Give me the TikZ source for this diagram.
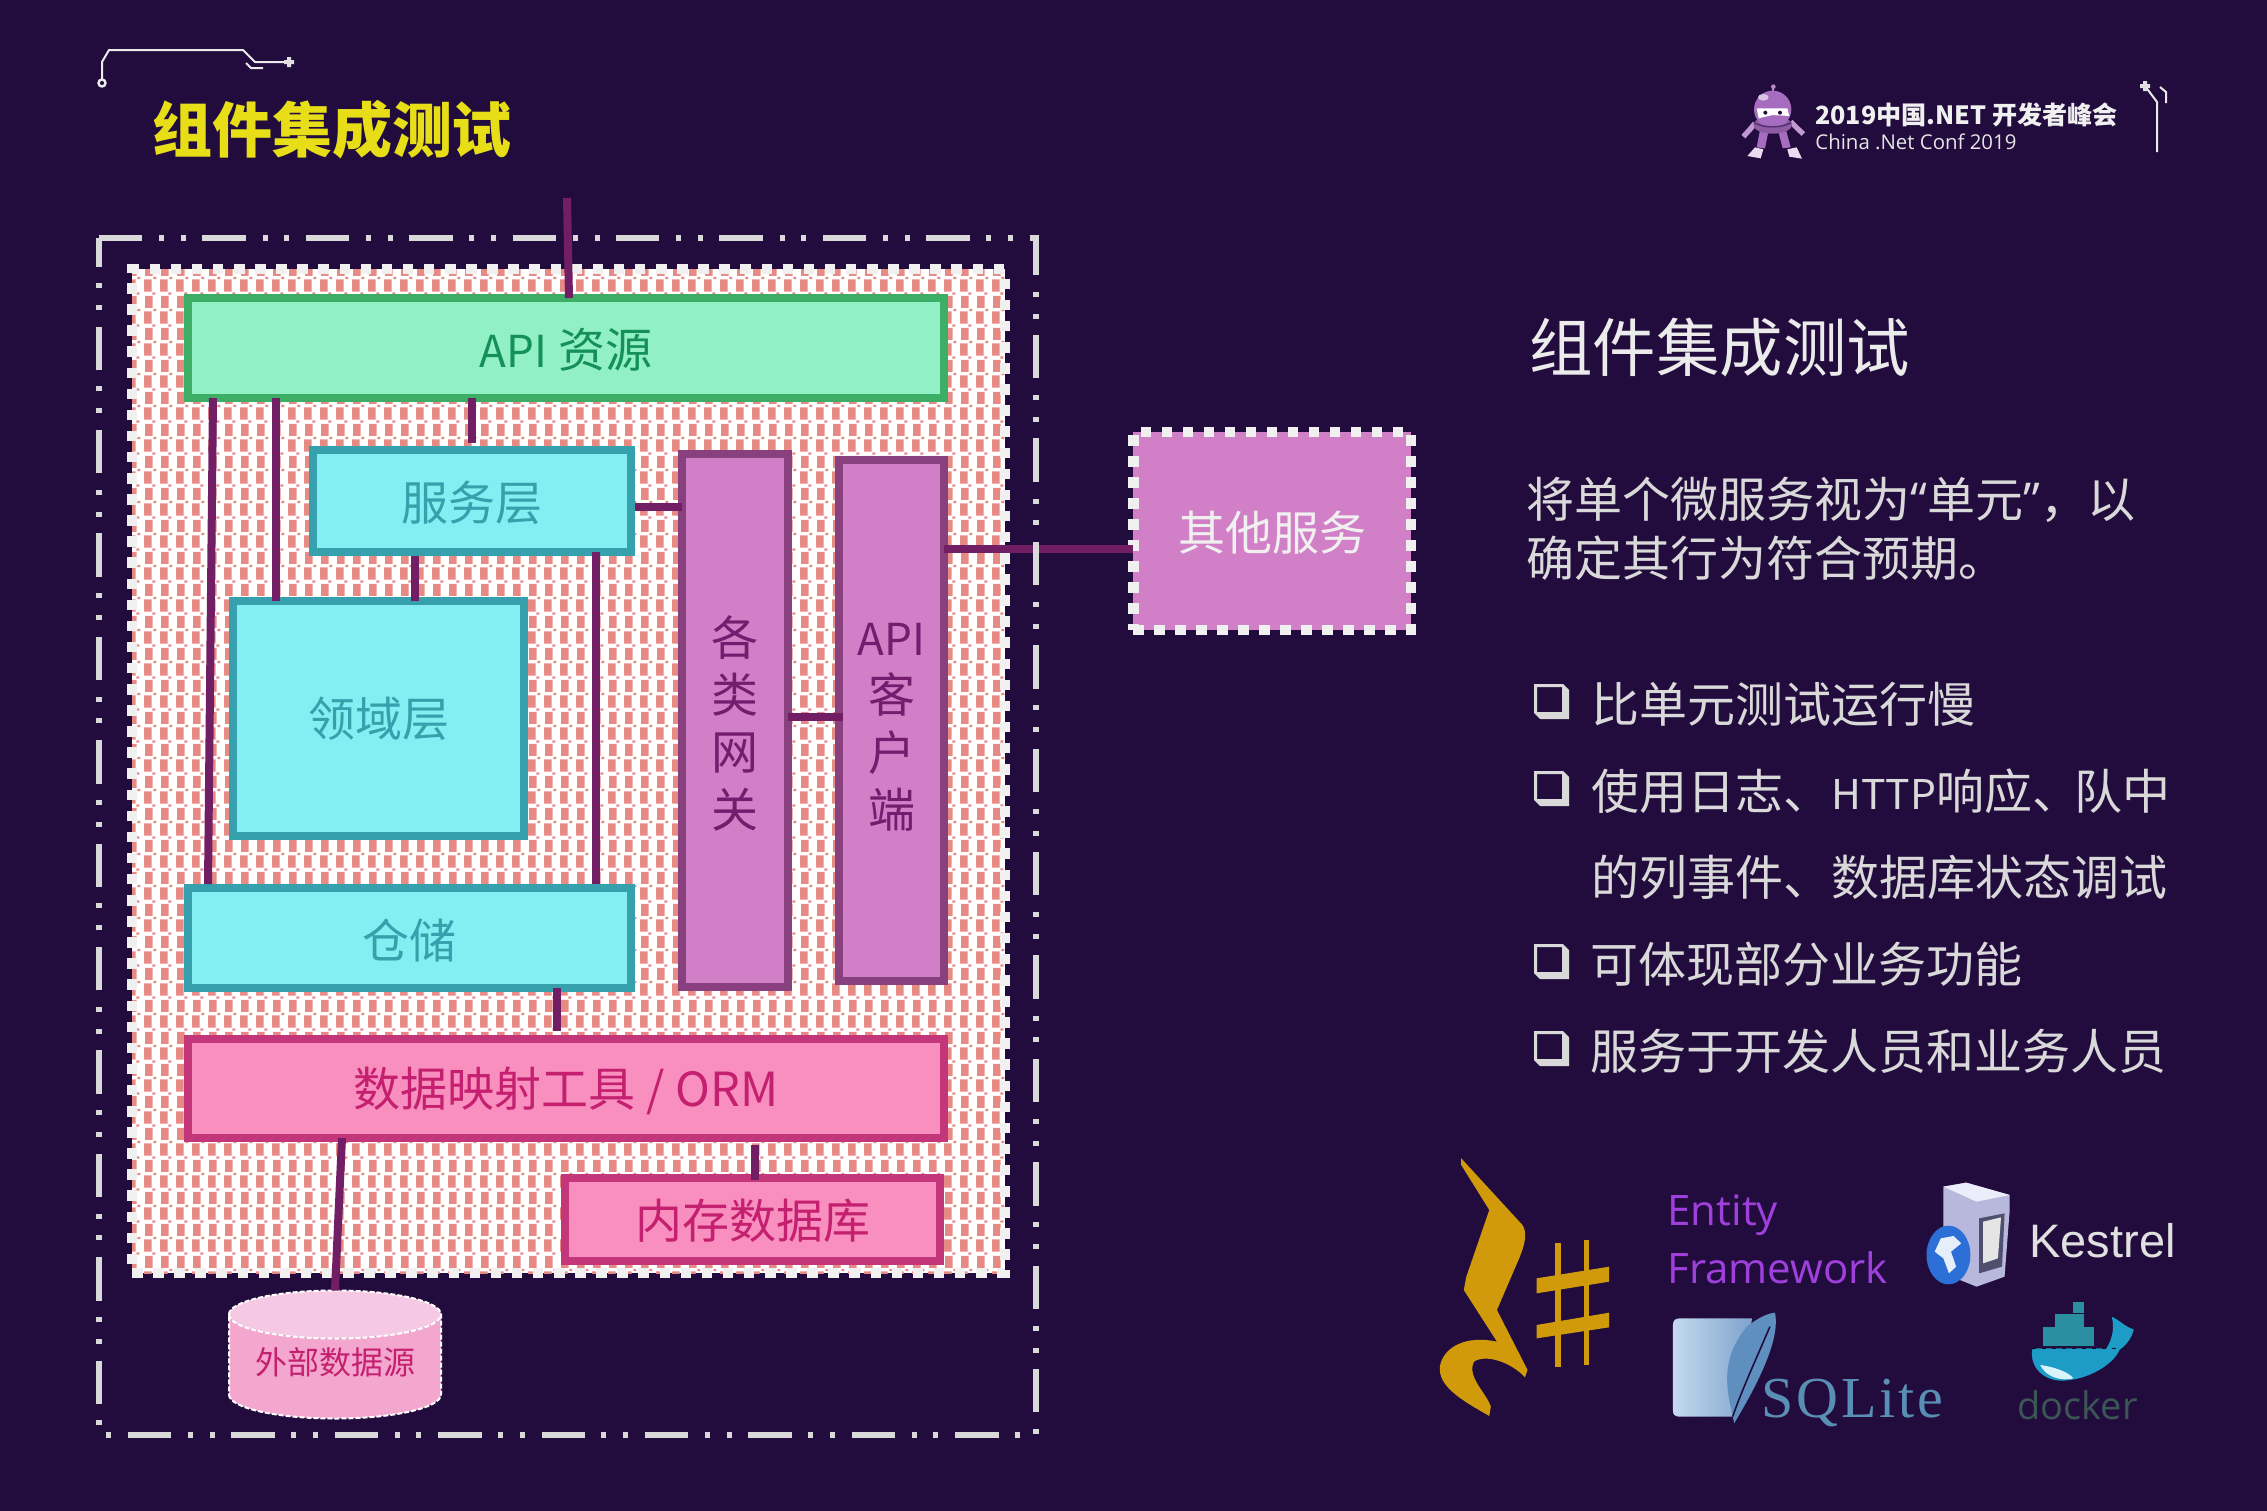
\documentclass[tikz,border=0pt]{standalone}
\usepackage{fontspec}
\setmainfont{Noto Sans CJK SC}
\newfontfamily\latinfont{Open Sans}
\newfontfamily\arialfont{Liberation Sans}
\newfontfamily\serifont[LetterSpace=5]{Liberation Serif}
\usetikzlibrary{patterns,calc,shapes.geometric}
\newcommand{\fsz}[1]{\fontsize{#1}{#1}\selectfont}
\newcommand{\dn}[2][0.7pt]{\raisebox{0pt}[\dimexpr\height+#1+#1\relax][\depth]{#2}}
\definecolor{bgc}{HTML}{220C3D}
\definecolor{conn}{HTML}{721E64}
\definecolor{salm}{HTML}{E88A84}
\definecolor{apif}{HTML}{92F0C6}
\definecolor{apis}{HTML}{3DAE66}
\definecolor{apit}{HTML}{149058}
\definecolor{cyaf}{HTML}{84EEF2}
\definecolor{cyas}{HTML}{36A1AD}
\definecolor{pnkf}{HTML}{F98FBF}
\definecolor{pnks}{HTML}{C4367A}
\definecolor{pnkt}{HTML}{C4206F}
\definecolor{purf}{HTML}{D17FC6}
\definecolor{purs}{HTML}{88407F}
\definecolor{purt}{HTML}{741C6E}
\definecolor{gold}{HTML}{D19A0B}
\definecolor{txtc}{HTML}{D9D9D9}
\definecolor{robot}{HTML}{A66CC0}
\definecolor{efc}{HTML}{A040DC}
\definecolor{sqlt}{HTML}{5A8FB5}
\definecolor{sqlf}{HTML}{5F8FBF}
\definecolor{sqll}{HTML}{C4DAF0}
\definecolor{sqld}{HTML}{7FA2CC}
\definecolor{whale}{HTML}{1E9CC8}
\definecolor{crate}{HTML}{2A8FA0}
\definecolor{dockt}{HTML}{3C5656}
\definecolor{srvl}{HTML}{ECECFA}
\definecolor{srvm}{HTML}{B8B8DC}
\definecolor{srvd}{HTML}{50506E}
\definecolor{globe}{HTML}{2C6FD6}
\definecolor{dbbody}{HTML}{F3A6CE}
\definecolor{dbend}{HTML}{F5C8E4}
\pgfdeclarepatternformonly{tilepat}{\pgfqpoint{0pt}{0pt}}{\pgfqpoint{8pt}{16pt}}{\pgfqpoint{8pt}{16pt}}{%
  \pgfpathrectangle{\pgfqpoint{0pt}{1.8pt}}{\pgfqpoint{4pt}{6.2pt}}%
  \pgfpathrectangle{\pgfqpoint{4.4pt}{0.2pt}}{\pgfqpoint{1.6pt}{1.2pt}}%
  \pgfpathrectangle{\pgfqpoint{0.6pt}{9.8pt}}{\pgfqpoint{4pt}{6.2pt}}%
  \pgfpathrectangle{\pgfqpoint{5pt}{8.2pt}}{\pgfqpoint{1.6pt}{1.2pt}}%
  \pgfusepath{fill}}
\newcommand{\bulletbox}[1]{\fill[txtc,even odd rule,shift={#1}]
  (0,0) -- (29,0) -- (35,6) -- (35,35) -- (6,35) -- (0,29) -- cycle
  (3,3) rectangle (28,28);}
\tikzset{
  box/.style={rectangle,draw,line width=4pt,inner sep=0pt,outer sep=0pt,align=center},
  apibox/.style={box,draw=apis,fill=apif,text=apit},
  cyanbox/.style={box,draw=cyas,fill=cyaf,text=cyas},
  pinkbox/.style={box,draw=pnks,fill=pnkf,text=pnkt},
  purplebox/.style={box,draw=purs,fill=purf,text=purt},
  link/.style={draw=conn,line width=4pt},
  deco/.style={draw=white!92!black,line width=1pt},
  bodytext/.style={text=txtc,anchor=west,inner sep=0pt},
}
\begin{document}
\begin{tikzpicture}[x=0.5pt,y=-0.5pt]
\fill[bgc] (0,0) rectangle (2267,1511);
\useasboundingbox (0,0) rectangle (2267,1511);

% header decorations
\draw[deco] (102,79) -- (102,62) -- (109,50) -- (243,50) -- (255,62) -- (287,62);
\draw[deco,line width=1.2pt] (102,83) circle (3.5);
\draw[deco] (246,63) -- (251,68) -- (263,68);
\fill[white!88!black] (284,60) rectangle (294,64) (287,57) rectangle (291,67);
\draw[deco] (2145,86) -- (2157,102) -- (2157,152);
\draw[deco] (2160,87) -- (2166,92) -- (2166,103);
\fill[white!88!black] (2140,84) rectangle (2150,88) (2143,81) rectangle (2147,91);

% title
\node[text=yellow!90!black,font=\fsz{30}\bfseries,inner sep=0pt] (title) at (332,129.5) {组件集成测试};

% robot logo
\begin{scope}[shift={(1700,60)},scale=1/3]
\draw[robot!80!white,line width=1pt] (220,82) -- (220,105);
\fill[robot!80!white] (220,80) circle (7);
\draw[robot!70!white,line width=2.6pt] (165,190) -- (150,208) -- (130,230);
\draw[robot!70!white,line width=2.6pt] (272,185) -- (292,205) -- (310,222);
\fill[robot] (180,210) -- (205,215) -- (195,265) -- (170,262) -- cycle;
\fill[robot] (235,215) -- (258,210) -- (272,262) -- (248,265) -- cycle;
\fill[white!75!robot] (142,288) -- (165,262) -- (190,268) -- (182,295) -- cycle;
\fill[white!75!robot] (262,268) -- (290,262) -- (306,296) -- (268,290) -- cycle;
\fill[robot!85!black] (218,195) ellipse (58 and 26);
\fill[robot] (218,148) circle (56);
\fill[white!60!robot] (190,112) ellipse (16 and 10);
\fill[white] (170,145) -- (262,145) -- (268,168) -- (218,165) -- (176,175) -- cycle;
\fill[bgc] (196,158) circle (6) (240,158) circle (6);
\draw[bgc!60!robot,line width=0.8pt] (162,188) .. controls (195,205) and (240,205) .. (274,188);
\end{scope}
\node[anchor=west,text=white!94!black,font=\fsz{12.55}\bfseries,inner sep=0pt] (conf) at (1815,115) {2019中国.NET 开发者峰会};
\node[anchor=west,text=white!90!black,font=\fsz{10.2}\latinfont,inner sep=0pt] (confen) at (1815,142) {China .Net Conf 2019};

% right column
\node[anchor=west,text=white!92!black,font=\fsz{31.7},inner sep=0pt] (head) at (1529,348) {组件集成测试};
\node[bodytext,font=\fsz{24}] (p1) at (1526,500) {将单个微服务视为{\latinfont “}单元{\latinfont ”}，\hspace{-0.5pt}以};
\node[bodytext,font=\fsz{24}] (p2) at (1526,558) {确定其行为符合预期。};
\bulletbox{(1534,684)}
\bulletbox{(1534,771)}
\bulletbox{(1534,944)}
\bulletbox{(1534,1031)}
\node[bodytext,font=\fsz{24}] (b1) at (1591,704) {比单元测试运行慢};
\node[bodytext,font=\fsz{24}] (b2) at (1591,791) {使用日志、{\fsz{20.5}HTTP}响应、\hspace{-3pt}队中};
\node[bodytext,font=\fsz{24}] (b3) at (1591,877) {的列事件、数据库状态调试};
\node[bodytext,font=\fsz{24}] (b4) at (1590,964) {可体现部分业务功能};
\node[bodytext,font=\fsz{24}] (b5) at (1590,1051) {服务于开发人员和业务人员};

% main zone
\node[rectangle,minimum width=436.5pt,minimum height=502pt,inner sep=0pt,outer sep=0pt,
  preaction={fill=white},pattern=tilepat,pattern color=salm,
  draw=white!94!black,line width=5.2pt,dash pattern=on 5.25pt off 5.3pt] (zone) at (568.5,771) {};

% boxes
\node[apibox,minimum width=378pt,minimum height=50pt,font=\fsz{23.5}] (api) at (566,348) {\dn{{\fsz{22}API} 资源}};
\node[cyanbox,minimum width=159pt,minimum height=51pt,font=\fsz{23.5}] (svc) at (472,501) {\dn{服务层}};
\node[cyanbox,minimum width=145.5pt,minimum height=117.5pt,font=\fsz{23.5}] (dom) at (378.5,718.5) {\dn[0.4pt]{领域层}};
\node[cyanbox,minimum width=221.5pt,minimum height=50pt,font=\fsz{23.5}] (repo) at (409.5,938) {\dn[1.3pt]{仓储}};
\node[pinkbox,minimum width=378pt,minimum height=49.5pt,font=\fsz{23.5}] (orm) at (566,1088.5) {\dn[1.3pt]{数据映射工具 / ORM}};
\node[pinkbox,minimum width=187.5pt,minimum height=41.5pt,font=\fsz{23.5}] (mem) at (752.5,1219.5) {\dn{内存数据库}};
\node[purplebox,minimum width=53pt,minimum height=266.5pt,font=\fontsize{23.5}{28.7}\selectfont] (gw) at (735,720.5) {\rule{0pt}{22.5pt}各\\类\\网\\关};
\node[purplebox,minimum width=52.5pt,minimum height=260.5pt,font=\fontsize{23.5}{28.7}\selectfont] (cli) at (891.5,720.5) {\rule{0pt}{23pt}{\fontsize{22}{28.7}\selectfont API}\\客\\户\\端};
\node[rectangle,fill=purf,draw=white!94!black,line width=5.2pt,dash pattern=on 5.25pt off 5.25pt,
  minimum width=138.75pt,minimum height=99pt,inner sep=0pt,outer sep=0pt,text=white!94!black,font=\fsz{23.5}] (other) at (1272.2,531) {\dn{其他服务}};

% cylinder
\node[cylinder,shape border rotate=90,shape aspect=0.3,draw=white,line width=1pt,dash pattern=on 2.5pt off 1pt,
  cylinder uses custom fill,cylinder body fill=dbbody,cylinder end fill=dbend,
  minimum width=106pt,minimum height=64pt,inner sep=0pt,outer sep=0pt,text=pnkt,font=\fsz{16}] (db) at (335,1367) {\raisebox{0pt}[\height][\dimexpr\depth+4.4pt\relax]{外部数据源}};

% connectors
\coordinate (topend) at (567,198);
\draw[link] (topend) -- ($(api.north)+(3,0)$);
\draw[link] ($(api.south)+(-353,0)$) -- ($(repo.north)+(-201.5,-4)$);
\draw[link] ($(api.south)+(-290,0)$) -- ($(dom.north)+(-102.5,0)$);
\draw[link] (api.south -| svc.north) -- ($(svc.north)+(0,-7)$);
\draw[link] ($(svc.south)+(-57,4)$) -- ($(dom.north)+(36.5,0)$);
\draw[link] ($(svc.south)+(124,0)$) -- ($(repo.north)+(186.5,-4)$);
\draw[link] ($(svc.east)+(4,6)$) -- ($(gw.west)+(0,-213.5)$);
\draw[link] ($(gw.east)+(0,-3.5)$) -- ($(cli.west)+(4,-3.5)$);
\draw[link] ($(cli.east)+(0,-171.5)$) -- ($(other.west)+(0,18)$);
\draw[link] ($(repo.south)+(147.5,0)$) -- ($(orm.north)+(-9,-8)$);
\draw[link] ($(orm.south)+(189,7)$) -- ($(mem.north)+(2.5,2)$);
\draw[link] ($(orm.south)+(-224,0)$) -- (db.top);

% outer boundary
\draw[draw=txtc,line width=3pt,dash pattern=on 21.7pt off 8.4pt on 2.5pt off 8.4pt on 2.5pt off 8.2pt]
  (99,238) -- (1036,238) -- (1036,1435) -- (99,1435) -- cycle;

% C sharp logo
\begin{scope}[shift={(1400,1130)},xscale=0.5102,yscale=0.3333]
\fill[gold] (120,85) -- (240,285) .. controls (250,310) and (245,340) .. (235,380)
  -- (190,540) -- (250,720) -- (245,742) .. controls (220,700) and (170,670) .. (145,695)
  .. controls (130,740) and (170,790) .. (178,830) -- (175,858)
  .. controls (120,810) and (75,770) .. (78,710) .. controls (85,650) and (130,615) .. (190,635)
  -- (125,480) -- (130,440) -- (175,240) -- (120,105) -- cycle;
\draw[gold,line width=3pt] (310,338) -- (310,712);
\draw[gold,line width=2.5pt] (365,330) -- (365,705);
\fill[gold] (268,445) -- (410,410) -- (410,455) -- (268,490) -- cycle;
\fill[gold] (268,585) -- (410,548) -- (410,592) -- (268,625) -- cycle;

% server icon
\fill[srvm] (1065,170) -- (1110,158) -- (1195,195) -- (1195,240) -- (1185,440) -- (1130,470) -- (1065,430) -- cycle;
\fill[srvl] (1065,170) -- (1110,158) -- (1195,195) -- (1130,215) -- cycle;
\fill[srvd] (1135,265) -- (1185,250) -- (1180,410) -- (1135,430) -- cycle;
\fill[white!90!black] (1143,275) -- (1178,262) -- (1172,385) -- (1143,400) -- cycle;
\fill[globe] (1075,375) ellipse (43 and 88);
\fill[white!88!globe] (1060,325) -- (1085,318) -- (1100,340) -- (1080,365) -- (1090,410) -- (1076,430) -- (1065,385) -- (1048,365) -- cycle;

% SQLite logo
\shade[left color=sqll,right color=sqld] (550,565) -- (690,565) -- (660,860) -- (550,860) .. controls (535,860) and (535,850) .. (535,840) -- (535,585) .. controls (535,570) and (540,565) .. (550,565) -- cycle;
\fill[sqlf] (735,548) .. controls (745,620) and (710,740) .. (655,880) .. controls (645,800) and (620,700) .. (680,590) .. controls (700,565) and (720,550) .. (735,548) -- cycle;
\draw[bgc,line width=0.8pt] (725,590) .. controls (700,680) and (670,780) .. (652,860);

% docker whale
\fill[whale] (1240,655) -- (1385,655) .. controls (1398,620) and (1400,590) .. (1395,560) .. controls (1415,575) and (1420,590) .. (1438,598) .. controls (1435,625) and (1420,650) .. (1410,660) .. controls (1400,700) and (1350,752) .. (1295,752) .. controls (1255,750) and (1232,700) .. (1240,655) -- cycle;
\fill[white!85!cyan] (1255,705) .. controls (1280,710) and (1310,725) .. (1320,745) .. controls (1295,755) and (1265,740) .. (1255,705) -- cycle;
\fill[crate] (1260,592) rectangle (1360,648);
\fill[crate] (1283,552) rectangle (1340,590);
\fill[crate] (1320,515) rectangle (1340,550);
\draw[bgc!60!black,line width=0.6pt,dash pattern=on 2pt off 3pt] (1220,656) -- (1430,656);
\end{scope}

\node[anchor=base west,text=efc,font=\fsz{21}\latinfont,inner sep=0pt] (ef1) at (1667,1225) {Entity};
\node[anchor=base west,text=efc,font=\fsz{21}\latinfont,inner sep=0pt] (ef2) at (1667,1283) {Framework};
\node[anchor=base west,text=white!88!black,font=\fsz{23.5}\arialfont,inner sep=0pt] (kes) at (2029,1257) {Kestrel};
\node[anchor=base west,text=sqlt,font=\fsz{29}\serifont,inner sep=0pt] (sql) at (1761,1417) {SQLite};
\node[anchor=base west,text=dockt,font=\fsz{19}\latinfont,inner sep=0pt] (dock) at (2017,1419) {docker};
\end{tikzpicture}
\end{document}
